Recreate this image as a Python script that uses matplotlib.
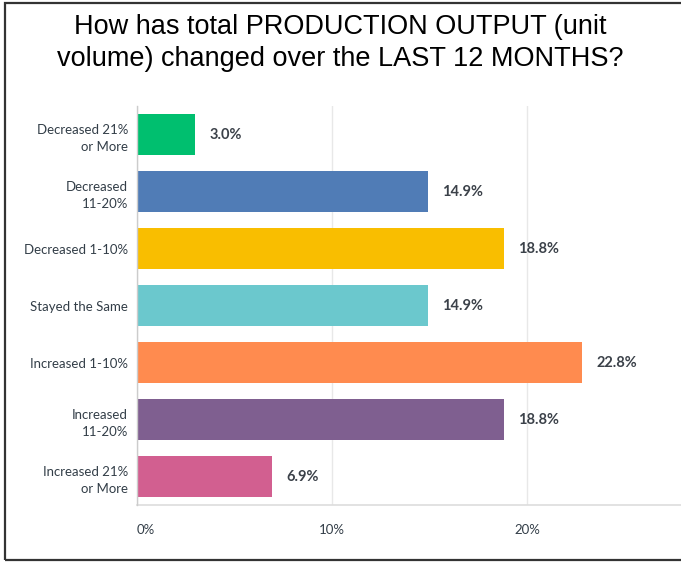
import matplotlib
matplotlib.use("Agg")
import matplotlib.pyplot as plt
from matplotlib.patches import Rectangle

categories = ["Decreased 21%\nor More", "Decreased\n11-20%", "Decreased 1-10%",
              "Stayed the Same", "Increased 1-10%", "Increased\n11-20%",
              "Increased 21%\nor More"]
values = [3.0, 14.9, 18.8, 14.9, 22.8, 18.8, 6.9]
colors = ["#00BF6F", "#507CB6", "#F9BE00", "#6BC8CD", "#FF8B4F", "#7F5F90", "#D25F90"]
xticks = [0, 10, 20]
xtick_labels = ["0%", "10%", "20%"]
title = "How has total PRODUCTION OUTPUT (unit\nvolume) changed over the LAST 12 MONTHS?"

fig = plt.figure(figsize=(6.81, 5.62), dpi=100)
ax = fig.add_axes([137/681, 1-505/562, 1-137/681, (505-106)/562])

y = list(range(len(categories)))
ax.barh(y, values, height=0.73, color=colors, zorder=3)
ax.set_ylim(len(categories)-0.5, -0.5)
ax.set_xlim(0, 27.9)

for yi, v in zip(y, values):
    ax.annotate(f"{v:.1f}%", (v, yi), xytext=(10.5, 0), textcoords="offset points",
                va="center", ha="left", fontsize=10.5, fontweight="bold",
                color="#3b4149", family="Lato")

ax.set_yticks(y)
ax.set_yticklabels(categories, fontsize=9.5, color="#333e48", family="Lato", linespacing=1.5)
ax.set_xticks(xticks)
ax.set_xticklabels(xtick_labels, fontsize=9.5, color="#333e48", family="Lato")
ax.get_xticklabels()[0].set_ha("left")
ax.tick_params(axis="y", length=0, pad=6.5)
ax.tick_params(axis="x", length=0, pad=14)

ax.grid(axis="x", color="#e8e8e8", linewidth=1, zorder=0)
for s in ["top", "right"]:
    ax.spines[s].set_visible(False)
ax.spines["left"].set_color("#cccccc")
ax.spines["bottom"].set_color("#dddddd")
ax.spines["left"].set_linewidth(1)
ax.spines["bottom"].set_linewidth(1.2)
ax.spines["left"].set_zorder(4)

fig.text(0.5, 1-43/562, title, ha="center", va="center", fontsize=19.5,
         family="Liberation Sans", color="#000000", linespacing=1.3)

fig.patches.append(Rectangle((5/681, 1-560/562), 1.2, 557/562, transform=fig.transFigure,
                             fill=False, edgecolor="#333333", linewidth=1.6))

fig.savefig("out.png", dpi=100)
